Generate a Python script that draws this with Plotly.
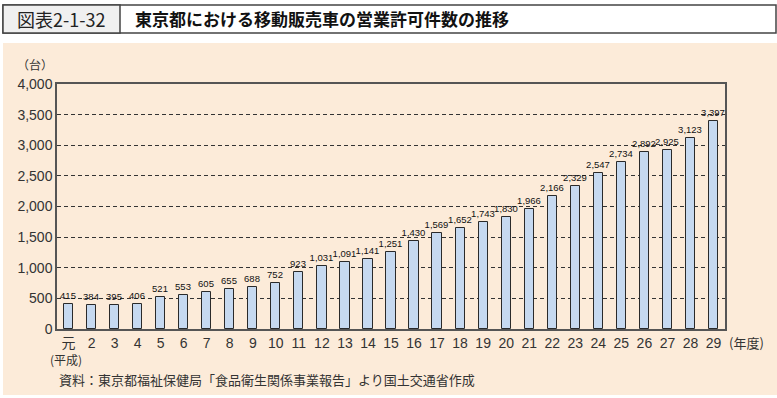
import plotly.graph_objects as go

categories = ["元", "2", "3", "4", "5", "6", "7", "8", "9", "10", "11", "12", "13", "14", "15",
              "16", "17", "18", "19", "20", "21", "22", "23", "24", "25", "26", "27", "28", "29"]
values = [415, 384, 395, 406, 521, 553, 605, 655, 688, 752, 923, 1031, 1091, 1141, 1251,
          1430, 1569, 1652, 1743, 1830, 1966, 2166, 2329, 2547, 2734, 2892, 2925, 3123, 3397]
y_ticks = [0, 500, 1000, 1500, 2000, 2500, 3000, 3500, 4000]

W, H = 777, 398
L, R, T, B = 57, 725, 84, 329

def px(x):
    return (x - L) / (R - L)

def py(y):
    return (B - y) / (B - T)

labels = [f"{v:,}" for v in values]

fig = go.Figure()
fig.add_trace(go.Bar(
    x=list(range(len(categories))), y=values,
    width=0.4,
    marker=dict(color="#c6d9f0", line=dict(color="#2a2a2a", width=1)),
    text=labels, textposition="outside", cliponaxis=False, constraintext="none",
    textfont=dict(family="Liberation Sans Narrow, Liberation Sans, Arial", size=9.5, color="#111"),
    hoverinfo="skip",
))

fig.update_layout(
    width=W, height=H,
    margin=dict(l=L, r=W - R, t=T, b=H - B, pad=0, autoexpand=False),
    paper_bgcolor="white",
    plot_bgcolor="rgba(0,0,0,0)",
    showlegend=False,
    bargap=0,
    font=dict(family="Liberation Sans, Arial", color="#333"),
)
fig.update_xaxes(
    range=[-0.5, len(categories) - 0.5],
    tickmode="array", tickvals=list(range(len(categories))), ticktext=categories,
    tickfont=dict(family="Liberation Sans, Noto Sans CJK JP", size=14, color="#333"),
    showline=True, linecolor="#555", linewidth=1.5, mirror=True,
    showgrid=False, ticks="", zeroline=False, automargin=False,
)
fig.update_yaxes(
    range=[0, 4000],
    tickmode="array", tickvals=y_ticks, tickformat=",",
    tickfont=dict(family="Liberation Sans, Arial", size=14, color="#333"),
    showline=True, linecolor="#555", linewidth=1.5, mirror=True,
    showgrid=True, gridcolor="#333", griddash="4px,3px", gridwidth=1,
    ticks="", zeroline=False, automargin=False,
)

shapes = [
    dict(type="rect", xref="paper", yref="paper", x0=px(3), x1=px(777), y0=py(395), y1=py(43),
         fillcolor="#fcebd9", line=dict(width=0), layer="below"),
    dict(type="rect", xref="paper", yref="paper", x0=px(3), x1=px(776), y0=py(33), y1=py(5),
         fillcolor="white", line=dict(color="#444", width=1.5), layer="below"),
    dict(type="rect", xref="paper", yref="paper", x0=px(3), x1=px(120), y0=py(33), y1=py(5),
         fillcolor="#f0f0f0", line=dict(color="#444", width=1.5), layer="below"),
]
fig.update_layout(shapes=shapes)

cjk = "Noto Sans CJK JP"
annotations = [
    dict(text="図表2-1-32", x=px(61), y=py(19), xref="paper", yref="paper",
         showarrow=False, font=dict(family=cjk, size=18, color="#222"), xanchor="center", yanchor="middle"),
    dict(text="<b>東京都における移動販売車の営業許可件数の推移</b>", x=px(133), y=py(19), xref="paper", yref="paper",
         showarrow=False, font=dict(family=cjk, size=17, color="#111"), xanchor="left", yanchor="middle"),
    dict(text="（台）", x=px(35), y=py(65), xref="paper", yref="paper",
         showarrow=False, font=dict(family=cjk, size=12, color="#333"), xanchor="center", yanchor="middle"),
    dict(text="(平成)", x=px(66), y=py(359), xref="paper", yref="paper",
         showarrow=False, font=dict(family=cjk, size=12, color="#333"), xanchor="center", yanchor="middle"),
    dict(text="(年度)", x=px(727), y=py(342), xref="paper", yref="paper",
         showarrow=False, font=dict(family=cjk, size=13, color="#333"), xanchor="left", yanchor="middle"),
    dict(text="資料：東京都福祉保健局「食品衛生関係事業報告」より国土交通省作成", x=px(57), y=py(379),
         xref="paper", yref="paper",
         showarrow=False, font=dict(family=cjk, size=13, color="#333"), xanchor="left", yanchor="middle"),
]
fig.update_layout(annotations=annotations)

fig.write_html("out.html", config={"displayModeBar": False},
               post_script="document.body.style.margin='0';document.body.style.overflow='hidden';")
